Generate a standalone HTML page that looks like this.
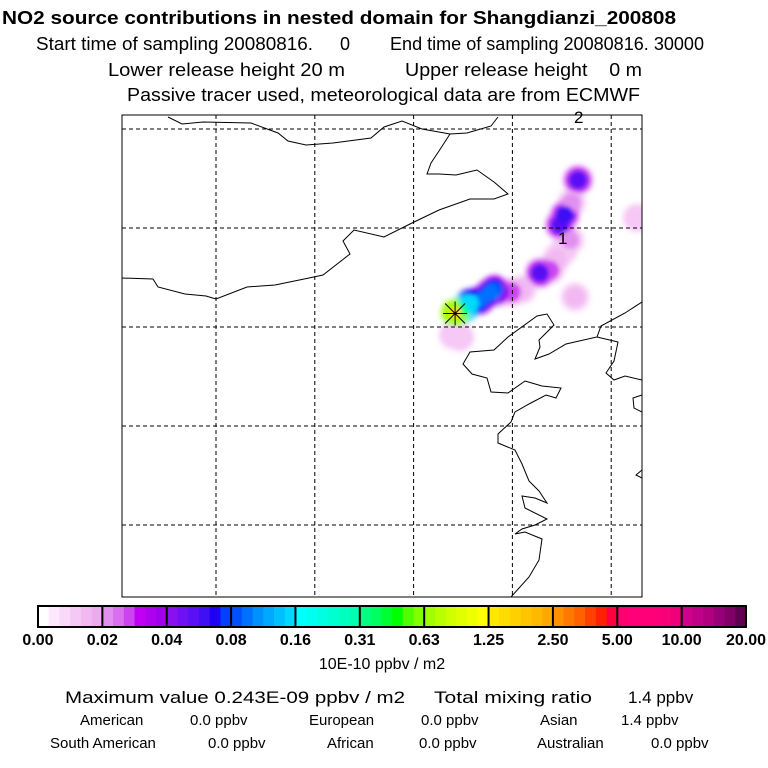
<!DOCTYPE html>
<html><head><meta charset="utf-8"><style>
html,body{margin:0;padding:0;background:#fff;}
svg{display:block;font-family:"Liberation Sans",Arial,sans-serif;}
</style></head><body>
<svg id="c" width="768" height="768" viewBox="0 0 768 768">
<defs><filter id="bl" x="-50%" y="-50%" width="200%" height="200%"><feGaussianBlur stdDeviation="3"/></filter>
<filter id="bl2" x="-50%" y="-50%" width="200%" height="200%"><feGaussianBlur stdDeviation="2"/></filter>
<clipPath id="mapclip"><rect x="122" y="115" width="520" height="482"/></clipPath></defs>
<text x="2" y="24" font-size="18" font-weight="bold" textLength="674" lengthAdjust="spacingAndGlyphs">NO2 source contributions in nested domain for Shangdianzi_200808</text>
<g font-size="18">
<text x="36" y="50" textLength="277" lengthAdjust="spacingAndGlyphs">Start time of sampling 20080816.</text>
<text x="340" y="50">0</text>
<text x="390" y="50" textLength="314" lengthAdjust="spacingAndGlyphs">End time of sampling 20080816. 30000</text>
</g>
<g font-size="18">
<text x="108" y="76" textLength="237" lengthAdjust="spacingAndGlyphs">Lower release height   20 m</text>
<text x="405" y="76" textLength="237" lengthAdjust="spacingAndGlyphs" xml:space="preserve">Upper release height    0 m</text>
</g>
<text x="127" y="101" font-size="18" textLength="513" lengthAdjust="spacingAndGlyphs">Passive tracer used, meteorological data are from ECMWF</text>
<g id="plume" clip-path="url(#mapclip)"></g>
<g id="grid"></g>
<g clip-path="url(#mapclip)" fill="none" stroke="#000" stroke-width="1">
<polyline points="168,117 182,124 203,122 251,123 278,133 288,141 306,145 333,143 371,138 384,127 402,121 422,129 450,134 467,133 491,126 498,117"/>
<polyline points="450,134 439,151 431,163 427,174 439,174 456,175 477,170 494,182 508,194 494,199 470,199 439,210 412,223 384,237 354,230 343,241 350,254 323,275 309,278 275,285 247,287 216,299 206,296 185,294 158,287 153,279 122,278"/>
<polyline points="642,302 625,313 601,326 597,337 566,344 549,354 535,359 540,347 539,340 554,325 547,314 537,316 508,337 494,350 470,352 463,364 472,374 487,378 491,392 508,393 525,381 542,386 561,388 556,398 546,395 529,404 515,412 511,422 498,434 498,443 515,450 522,464 529,481 539,491 547,503 535,498 522,496 525,508 547,519 535,525 522,529 515,534 525,532 542,539 539,560 529,577 511,597"/>
<polyline points="597,337 618,342 614,361 606,373 614,380 625,376 642,380"/>
<polyline points="642,395 633,398 634,408 642,412"/>
<polyline points="642,470 636,475 642,478"/>
</g>
<text x="574" y="123" font-size="17">2</text>
<text x="558" y="244" font-size="17">1</text>
<g id="star"></g>
<rect x="122" y="115" width="520" height="482" fill="none" stroke="#000" stroke-width="1"/>
<g id="cbar"></g>
<text x="382" y="669" font-size="16" text-anchor="middle">10E-10 ppbv / m2</text>
<g font-size="17">
<text x="65" y="703" textLength="340" lengthAdjust="spacingAndGlyphs">Maximum value  0.243E-09 ppbv / m2</text>
<text x="434" y="703" textLength="158" lengthAdjust="spacingAndGlyphs">Total mixing ratio</text>
<text x="628" y="703">1.4 ppbv</text>
</g>
<g font-size="15">
<text x="80" y="725">American</text>
<text x="190" y="725">0.0 ppbv</text>
<text x="309" y="725">European</text>
<text x="421" y="725">0.0 ppbv</text>
<text x="540" y="725">Asian</text>
<text x="621" y="725">1.4 ppbv</text>
<text x="50" y="748">South American</text>
<text x="208" y="748">0.0 ppbv</text>
<text x="327" y="748">African</text>
<text x="419" y="748">0.0 ppbv</text>
<text x="537" y="748">Australian</text>
<text x="651" y="748">0.0 ppbv</text>
</g>
</svg>
<script>
const levelLabels=["0.00","0.02","0.04","0.08","0.16","0.31","0.63","1.25","2.50","5.00","10.00","20.00"];
const levelValues=[0,0.02,0.04,0.08,0.16,0.31,0.63,1.25,2.5,5,10,20];
const segColors=[
["#ffffff","#fde8fd","#f9d8f9","#f5c8f5","#f1b8f1","#eeaaee"],
["#e290f0","#da70f0","#cc44f0","#c000f5","#b000f0","#a000f0"],
["#8a10f0","#7010f5","#5a10f5","#4010f5","#2000f5","#0040ff"],
["#0050ff","#0070ff","#0090ff","#00a8ff","#00c0ff","#00d8ff"],
["#00ffff","#00fff0","#00ffe0","#00ffd0","#00ffc0","#00ffb0"],
["#00ff80","#00ff60","#00ff30","#00ff00","#50ff00","#80ff00"],
["#a0ff00","#b8ff00","#d0ff00","#e0ff00","#f0ff00","#ffff00"],
["#ffe800","#ffdc00","#ffd000","#ffc400","#ffb800","#ffa800"],
["#ff9000","#ff7800","#ff6000","#ff4000","#ff2000","#ff0040"],
["#ff0070","#ff0078","#ff0078","#ff0078","#f80078","#f00078"],
["#d0008c","#c00088","#b00080","#980078","#800068","#600050"]];
const lonTicks=[105,110,115,120,125];
const latTicks=[50,45,40,35,30];
const cellLon=[117.35,117.0,126.31,123.17,122.26,122.6,122.91,120.5,119.98,121.40,121.9,122.41,122.66,123.0,123.32,119.37,118.36,118.87,119.1,117.85,117.45,117.10];
const cellLat=[39.49,39.6,45.51,41.52,43.48,43.9,44.39,41.9,41.77,42.73,42.9,45.15,45.66,46.3,47.42,41.77,41.36,41.72,41.9,41.21,40.86,40.71];
const cellVal=[0.012,0.01,0.01,0.014,0.015,0.012,0.02,0.015,0.03,0.06,0.03,0.06,0.065,0.02,0.06,0.045,0.1,0.1,0.08,0.15,0.35,1.5];
const receptorLon=117.10, receptorLat=40.68;

const NS="http://www.w3.org/2000/svg";
const xS=lon=>216+(lon-105)*19.76;
const yS=lat=>129+(50-lat)*19.8;
function mk(t,a,p){const e=document.createElementNS(NS,t);for(const k in a)e.setAttribute(k,a[k]);p.appendChild(e);return e;}
function colorFor(v){
  for(let i=0;i<levelValues.length-1;i++){
    const a=levelValues[i],b=levelValues[i+1];
    if(v<b||i===levelValues.length-2){
      let f=(v-a)/(b-a);f=Math.max(0,Math.min(0.999,f));
      return segColors[i][Math.floor(f*6)];
    }
  }
}
const g=document.getElementById('grid');
lonTicks.forEach(l=>{const e=mk('line',{x1:xS(l),x2:xS(l),y1:115,y2:597,stroke:'#000','stroke-dasharray':'4,3'},g);

});
latTicks.forEach(l=>{const e=mk('line',{x1:122,x2:642,y1:yS(l),y2:yS(l),stroke:'#000','stroke-dasharray':'4,3'},g);

});
const p=document.getElementById('plume');
const order=cellVal.map((v,i)=>i).sort((a,b)=>cellVal[a]-cellVal[b]);
const halo=mk('g',{filter:'url(#bl)'},p);
order.forEach(i=>{const v=cellVal[i];const e=mk('circle',{cx:xS(cellLon[i]),cy:yS(cellLat[i]),r:14,fill:colorFor(Math.max(0.012,v*0.45))},halo);

});
const core=mk('g',{filter:'url(#bl2)'},p);
order.forEach(i=>{const v=cellVal[i];const e=mk('circle',{cx:xS(cellLon[i]),cy:yS(cellLat[i]),r:v>0.3?6:9,fill:colorFor(v)},core);

});
const s=document.getElementById('star');const sx=xS(receptorLon),sy=yS(receptorLat);
[[-12,0,12,0],[0,-12,0,12],[-10,-10,10,10],[-10,10,10,-10]].forEach(d=>mk('line',{x1:sx+d[0],y1:sy+d[1],x2:sx+d[2],y2:sy+d[3],stroke:'#000','stroke-width':1},s));
const cb=document.getElementById('cbar');const x0=38,x1=746,segW=(x1-x0)/segColors.length,cbY=606,cbH=21;
segColors.forEach((cols,i)=>{cols.forEach((c,j)=>{const e=mk('rect',{x:x0+i*segW+j*segW/6,y:cbY,width:segW/6+0.6,height:cbH,fill:c},cb);

});});
for(let i=0;i<=segColors.length;i++)mk('line',{x1:x0+i*segW,x2:x0+i*segW,y1:cbY,y2:cbY+cbH,stroke:'#000','stroke-width':2},cb);
mk('rect',{x:x0,y:cbY,width:x1-x0,height:cbH,fill:'none',stroke:'#000','stroke-width':2},cb);
levelLabels.forEach((t,i)=>{const e=mk('text',{x:x0+i*segW,y:645,'font-size':16,'font-weight':'bold','text-anchor':'middle'},cb);e.textContent=t;

});
</script>
</body></html>
